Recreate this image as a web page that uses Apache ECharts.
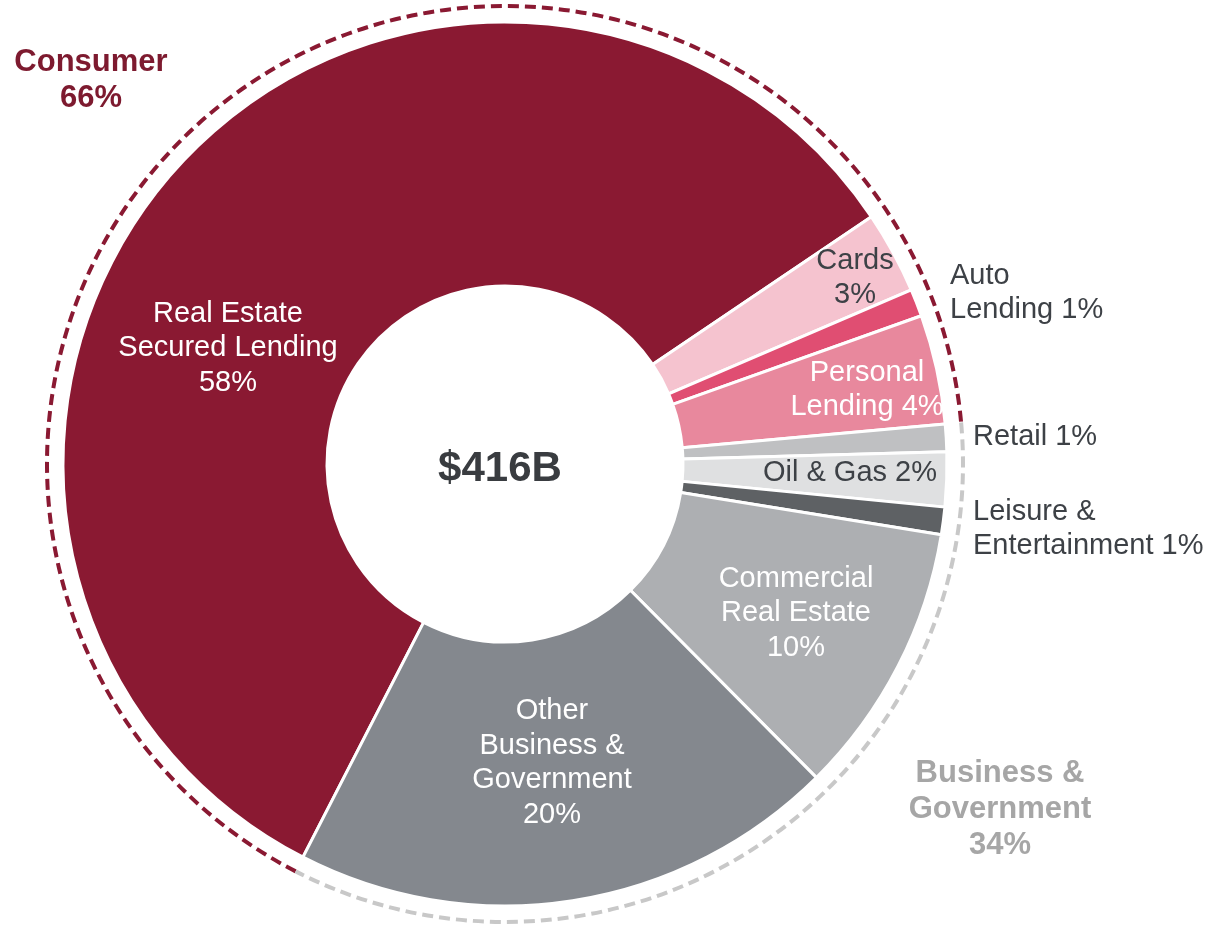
<!DOCTYPE html>
<html>
<head>
<meta charset="utf-8">
<title>Loan portfolio</title>
<script src="https://cdn.jsdelivr.net/npm/echarts@6/dist/echarts.min.js"></script>
<style>
  html, body { margin: 0; padding: 0; background: #fff; }
  #chart { width: 1210px; height: 926px; }
</style>
</head>
<body>
<div id="chart"></div>
<script>
// slices, clockwise starting at the lower-left edge of the big one
var segmentNames = ['Real Estate\nSecured Lending', 'Cards', 'Auto\nLending', 'Personal\nLending', 'Retail',
  'Oil & Gas', 'Leisure &\nEntertainment', 'Commercial\nReal Estate', 'Other\nBusiness &\nGovernment'];
var segmentShares = [58, 3, 1, 4, 1, 2, 1, 10, 20];
var groupNames = ['Consumer', 'Business &\nGovernment'];
var groupShares = [66, 34];
var totalLabel = '$416B';

var FONT = "'Liberation Sans', Arial, Helvetica, sans-serif";
var CX = 505, CY = 464;
var START = 242.8;

var segmentColors = ['#8a1932', '#f5c3cf', '#e04e72', '#e8889d', '#bfc0c2', '#dfe0e1', '#5e6164', '#adafb2', '#84888e'];
var segmentTextColors = ['#fff', '#3d4146', '#3d4146', '#fff', '#3d4146', '#3d4146', '#3d4146', '#fff', '#fff'];
// percent goes on its own line or follows the name
var segmentJoin = ['\n', '\n', ' ', ' ', ' ', ' ', ' ', '\n', '\n'];
// label anchor: x, y, align
var segmentLabelPos = [
  [228, 348, 'center'],
  [855, 278, 'center'],
  [950, 293, 'left'],
  [867, 390, 'center'],
  [973, 437, 'left'],
  [850, 473, 'center'],
  [973, 529, 'left'],
  [796, 613, 'center'],
  [552, 763, 'center']
];
var groupColors = ['#8a1932', '#c8c8c8'];
var groupTextColors = ['#7d1a2f', '#a6a6a6'];
var groupLabelPos = [[91, 80], [1000, 809]];

// group arcs as [radius, from %, to %]
var groupArcs = [];
var acc = 0;
groupShares.forEach(function (v) {
  groupArcs.push([1, acc, acc + v]);
  acc += v;
});

var chart = echarts.init(document.getElementById('chart'));

var option = {
  animation: false,
  backgroundColor: '#fff',
  graphic: [{
    type: 'text',
    x: CX - 5,
    y: CY + 5,
    style: {
      text: totalLabel,
      align: 'center',
      verticalAlign: 'middle',
      font: 'bold 42px ' + FONT,
      fill: '#393c40'
    }
  }],
  polar: { center: [CX, CY], radius: 458 },
  angleAxis: { type: 'value', min: 0, max: 100, startAngle: START, clockwise: true, show: false },
  radiusAxis: { type: 'value', min: 0, max: 1, show: false },
  series: [
    {
      type: 'pie',
      center: [CX, CY],
      radius: [178, 442],
      startAngle: START,
      clockwise: true,
      silent: true,
      avoidLabelOverlap: false,
      itemStyle: { borderColor: '#fff', borderWidth: 3 },
      label: {
        show: true,
        position: 'inside',
        fontFamily: FONT,
        fontSize: 29,
        lineHeight: 34.5,
        formatter: function (p) {
          return p.name + segmentJoin[p.dataIndex] + p.value + '%';
        }
      },
      labelLine: { show: false },
      labelLayout: function (p) {
        var pos = segmentLabelPos[p.dataIndex];
        return { x: pos[0], y: pos[1], align: pos[2], verticalAlign: 'middle' };
      },
      data: segmentNames.map(function (n, i) {
        return {
          name: n,
          value: segmentShares[i],
          itemStyle: { color: segmentColors[i] },
          label: { color: segmentTextColors[i], align: segmentLabelPos[i][2] }
        };
      })
    },
    {
      // dashed brackets round the consumer / business groups
      type: 'custom',
      coordinateSystem: 'polar',
      silent: true,
      encode: { radius: 0, angle: [1, 2] },
      data: groupArcs,
      renderItem: function (params, api) {
        var i = params.dataIndex;
        var c = params.coordSys;
        var a = api.coord([api.value(0), api.value(1)]);
        var b = api.coord([api.value(0), api.value(2)]);
        var r = Math.sqrt((a[0] - c.cx) * (a[0] - c.cx) + (a[1] - c.cy) * (a[1] - c.cy));
        return {
          type: 'group',
          children: [{
            type: 'arc',
            shape: {
              cx: c.cx,
              cy: c.cy,
              r: r,
              startAngle: Math.atan2(a[1] - c.cy, a[0] - c.cx),
              endAngle: Math.atan2(b[1] - c.cy, b[0] - c.cx),
              clockwise: true
            },
            style: {
              fill: null,
              stroke: groupColors[i],
              lineWidth: 4,
              lineDash: [11, 6]
            }
          }, {
            type: 'text',
            x: groupLabelPos[i][0],
            y: groupLabelPos[i][1],
            style: {
              text: groupNames[i] + '\n' + groupShares[i] + '%',
              align: 'center',
              verticalAlign: 'middle',
              font: 'bold 31px ' + FONT,
              lineHeight: 36,
              fill: groupTextColors[i]
            }
          }]
        };
      }
    }
  ]
};

chart.setOption(option);
</script>
</body>
</html>
